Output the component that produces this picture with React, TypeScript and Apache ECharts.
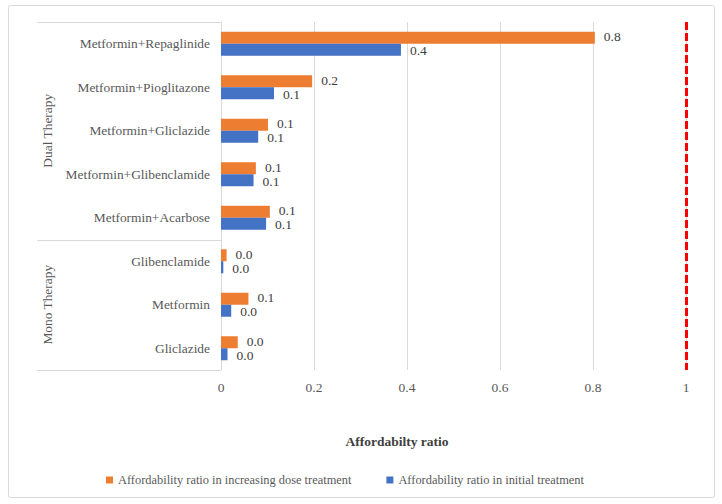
import React, { useEffect, useRef } from "react";
import * as echarts from "echarts";

const categories = [
  "Metformin+Repaglinide",
  "Metformin+Pioglitazone",
  "Metformin+Gliclazide",
  "Metformin+Glibenclamide",
  "Metformin+Acarbose",
  "Glibenclamide",
  "Metformin",
  "Gliclazide",
];
const groups = [
  { name: "Dual Therapy", from: 0, to: 4 },
  { name: "Mono Therapy", from: 5, to: 7 },
];
const increasingDose = [0.804, 0.196, 0.101, 0.075, 0.105, 0.012, 0.059, 0.036];
const initialTreatment = [0.387, 0.114, 0.08, 0.07, 0.097, 0.005, 0.022, 0.014];
const xTicks = { min: 0, max: 1, interval: 0.2 };
const thresholdValue = 1;
const seriesNames = [
  "Affordability ratio in increasing dose treatment",
  "Affordability ratio in initial treatment",
];
const axisTitle = "Affordabilty ratio";

const FONT = "'Liberation Serif', 'Times New Roman', serif";

export default function App() {
  const ref = useRef<HTMLDivElement>(null);
  useEffect(() => {
    if (!ref.current) return;
    const chart = echarts.init(ref.current, undefined, { renderer: "svg" });
    const gridLeft = 221;
    const gridRight = 36;
    const gridTop = 22;
    const gridBottom = 134;
    const labelFmt = (p: any) => Number(p.value).toFixed(1);
    chart.setOption({
      animation: false,
      backgroundColor: "#ffffff",
      grid: { left: gridLeft, right: gridRight, top: gridTop, bottom: gridBottom },
      xAxis: {
        type: "value",
        min: xTicks.min,
        max: xTicks.max,
        interval: xTicks.interval,
        axisLine: { show: false },
        axisTick: { show: false },
        splitLine: { lineStyle: { color: "#d9d9d9", width: 1 } },
        axisLabel: {
          color: "#595959",
          fontFamily: FONT,
          fontSize: 13.5,
          margin: 10,
          formatter: (v: number) => (v === 0 || v === 1 ? String(v) : v.toFixed(1)),
        },
      },
      yAxis: {
        type: "category",
        data: categories,
        inverse: true,
        axisLine: { show: true, lineStyle: { color: "#d9d9d9" } },
        axisTick: { show: false },
        axisLabel: {
          color: "#595959",
          fontFamily: FONT,
          fontSize: 13.4,
          margin: 11,
        },
      },
      legend: {
        left: 101,
        top: 469,
        itemWidth: 7,
        itemHeight: 7,
        itemGap: 35,
        icon: "rect",
        textStyle: { color: "#595959", fontFamily: FONT, fontSize: 12.4 },
        data: seriesNames,
      },
      series: [
        {
          name: seriesNames[0],
          type: "bar",
          data: increasingDose,
          barWidth: 12,
          barGap: "0%",
          itemStyle: { color: "#ED7D31" },
          label: {
            show: true,
            position: "right",
            distance: 9,
            offset: [0, -1],
            formatter: labelFmt,
            color: "#404040",
            fontFamily: FONT,
            fontSize: 13.5,
          },
          markLine: {
            symbol: ["none", "none"],
            silent: true,
            label: { show: false },
            lineStyle: { color: "#ff0000", width: 3, type: [8, 3] },
            data: [{ xAxis: thresholdValue }],
          },
        },
        {
          name: seriesNames[1],
          type: "bar",
          data: initialTreatment,
          barWidth: 12,
          barGap: "0%",
          itemStyle: { color: "#4472C4" },
          label: {
            show: true,
            position: "right",
            distance: 9,
            offset: [0, 1],
            formatter: labelFmt,
            color: "#404040",
            fontFamily: FONT,
            fontSize: 13.5,
          },
        },
      ],
    });

    const center0 = chart.convertToPixel({ yAxisIndex: 0 }, 0) as number;
    const center1 = chart.convertToPixel({ yAxisIndex: 0 }, 1) as number;
    const band = center1 - center0;
    const boundary = (i: number) => center0 + (i - 0.5) * band;
    const boxLeft = 37;
    const graphics: any[] = [
      {
        type: "rect",
        shape: { x: 8.5, y: 5.5, width: 706, height: 492, r: 2 },
        style: { fill: "none", stroke: "#d9d9d9", lineWidth: 1 },
        silent: true,
      },
      {
        type: "text",
        x: 397,
        y: 441,
        style: {
          text: axisTitle,
          fill: "#404040",
          font: `bold 13.5px ${FONT}`,
          align: "center",
          verticalAlign: "middle",
        },
      },
    ];
    const bounds = [0, ...groups.map((g) => g.to + 1)];
    bounds.forEach((b) => {
      const y = Math.round(boundary(b)) + 0.5;
      graphics.push({
        type: "line",
        shape: { x1: boxLeft, y1: y, x2: gridLeft, y2: y },
        style: { stroke: "#d9d9d9", lineWidth: 1 },
        silent: true,
      });
    });
    groups.forEach((g) => {
      const yc = (boundary(g.from) + boundary(g.to + 1)) / 2;
      graphics.push({
        type: "text",
        x: 47,
        y: yc,
        rotation: Math.PI / 2,
        style: {
          text: g.name,
          fill: "#595959",
          font: `13.4px ${FONT}`,
          align: "center",
          verticalAlign: "middle",
        },
      });
    });
    chart.setOption({ graphic: graphics });
    return () => chart.dispose();
  }, []);
  return <div ref={ref} style={{ width: 722, height: 504, position: "absolute", left: 0, top: 0 }} />;
}
